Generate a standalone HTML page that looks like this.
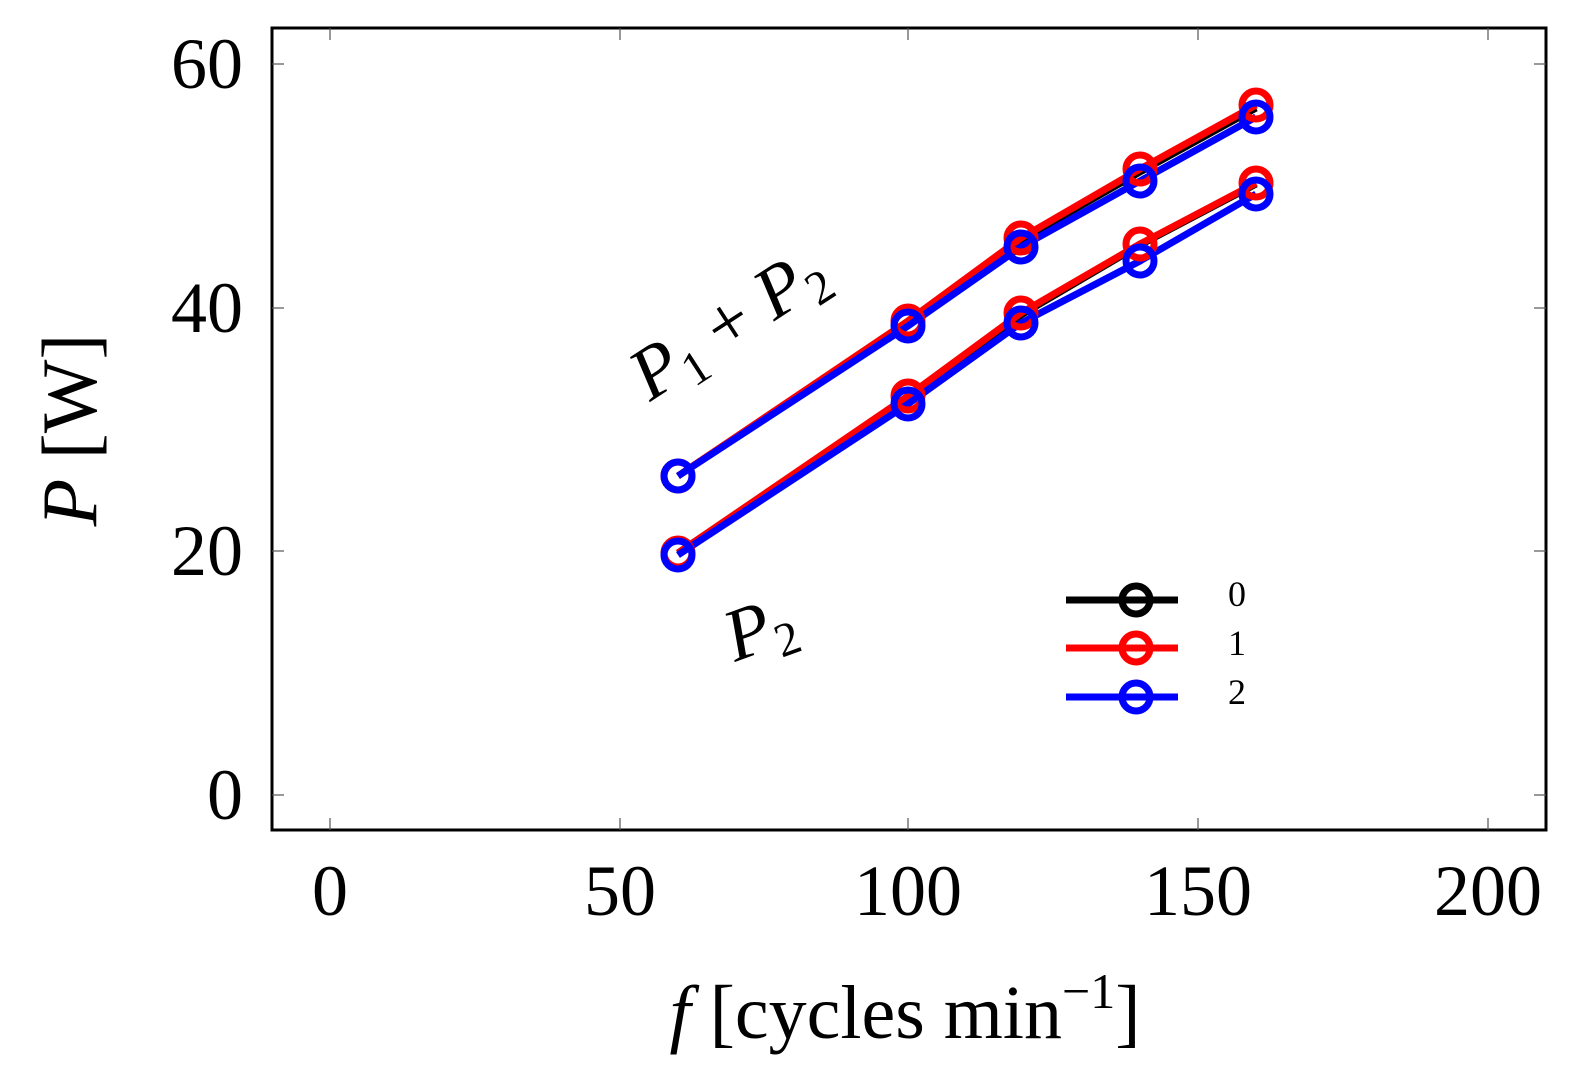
<!DOCTYPE html>
<html><head><style>html,body{margin:0;background:#fff;overflow:hidden}svg{display:block}</style></head><body>
<svg width="1577" height="1085" xmlns="http://www.w3.org/2000/svg" font-family="Liberation Serif, serif">
<rect x="272" y="28" width="1274" height="802" fill="none" stroke="#000" stroke-width="3"/>
<g stroke="#555" stroke-width="1.2">
<line x1="330" y1="830" x2="330" y2="818"/><line x1="620" y1="830" x2="620" y2="818"/><line x1="908" y1="830" x2="908" y2="818"/><line x1="1198" y1="830" x2="1198" y2="818"/><line x1="1488" y1="830" x2="1488" y2="818"/>
<line x1="330" y1="28" x2="330" y2="40"/><line x1="620" y1="28" x2="620" y2="40"/><line x1="908" y1="28" x2="908" y2="40"/><line x1="1198" y1="28" x2="1198" y2="40"/><line x1="1488" y1="28" x2="1488" y2="40"/>
<line x1="272" y1="64" x2="284" y2="64"/><line x1="272" y1="308" x2="284" y2="308"/><line x1="272" y1="551" x2="284" y2="551"/><line x1="272" y1="795" x2="284" y2="795"/>
<line x1="1546" y1="64" x2="1534" y2="64"/><line x1="1546" y1="308" x2="1534" y2="308"/><line x1="1546" y1="551" x2="1534" y2="551"/><line x1="1546" y1="795" x2="1534" y2="795"/>
</g>
<g font-size="72" text-anchor="middle">
<text x="330" y="915">0</text><text x="620" y="915">50</text><text x="908" y="915">100</text><text x="1198" y="915">150</text><text x="1488" y="915">200</text>
</g>
<g font-size="72" text-anchor="end">
<text x="243" y="88">60</text><text x="243" y="332">40</text><text x="243" y="575">20</text><text x="243" y="819">0</text>
</g>
<text x="905" y="1038" font-size="76" text-anchor="middle"><tspan font-style="italic">f</tspan>  [cycles min<tspan font-size="50" dy="-30">−1</tspan><tspan dy="30">]</tspan></text>
<text transform="translate(96,430) rotate(-90)" font-size="78" text-anchor="middle"><tspan font-style="italic">P</tspan> [W]</text>
<g fill="none" stroke-width="7">
<polyline stroke="#000" points="678,476 908,322 1021,240 1140,172 1256,108"/>
<polyline stroke="#000" points="678,553 908,397 1021,315 1140,245 1256,184"/>
<polyline stroke="#f00" points="678,476 908,321 1021,238 1140,169 1256,105"/>
<polyline stroke="#f00" points="678,553 908,396 1021,313 1140,244 1256,183"/>
<polyline stroke="#00f" points="678,476 908,326 1021,247 1140,181 1256,117"/>
<polyline stroke="#00f" points="678,555 908,404 1021,323 1140,261 1256,194"/>
<g stroke="#f00">
<circle cx="678" cy="476" r="14"/><circle cx="908" cy="321" r="14"/><circle cx="1021" cy="238" r="14"/><circle cx="1140" cy="169" r="14"/><circle cx="1256" cy="105" r="14"/>
<circle cx="678" cy="553" r="14"/><circle cx="908" cy="396" r="14"/><circle cx="1021" cy="313" r="14"/><circle cx="1140" cy="244" r="14"/><circle cx="1256" cy="183" r="14"/>
</g>
<g stroke="#00f">
<circle cx="678" cy="476" r="14"/><circle cx="908" cy="326" r="14"/><circle cx="1021" cy="247" r="14"/><circle cx="1140" cy="181" r="14"/><circle cx="1256" cy="117" r="14"/>
<circle cx="678" cy="555" r="14"/><circle cx="908" cy="404" r="14"/><circle cx="1021" cy="323" r="14"/><circle cx="1140" cy="261" r="14"/><circle cx="1256" cy="194" r="14"/>
</g>
<line x1="1066" y1="600" x2="1178" y2="600" stroke="#000"/><circle cx="1136" cy="600" r="14" stroke="#000"/>
<line x1="1066" y1="648" x2="1178" y2="648" stroke="#f00"/><circle cx="1136" cy="648" r="14" stroke="#f00"/>
<line x1="1066" y1="697" x2="1178" y2="697" stroke="#00f"/><circle cx="1136" cy="697" r="14" stroke="#00f"/>
</g>
<g font-size="36"><text x="1228" y="606">0</text><text x="1228" y="655">1</text><text x="1228" y="704">2</text></g>
<text transform="translate(650,402) rotate(-33)" font-size="74" font-style="italic">P<tspan font-size="48" dy="12" font-style="normal">1</tspan><tspan dy="-12" font-style="normal"> + </tspan>P<tspan font-size="48" dy="12" font-style="normal">2</tspan></text>
<text transform="translate(735,662) rotate(-20)" font-size="74" font-style="italic">P<tspan font-size="48" dy="12" font-style="normal">2</tspan></text>
</svg>
</body></html>
